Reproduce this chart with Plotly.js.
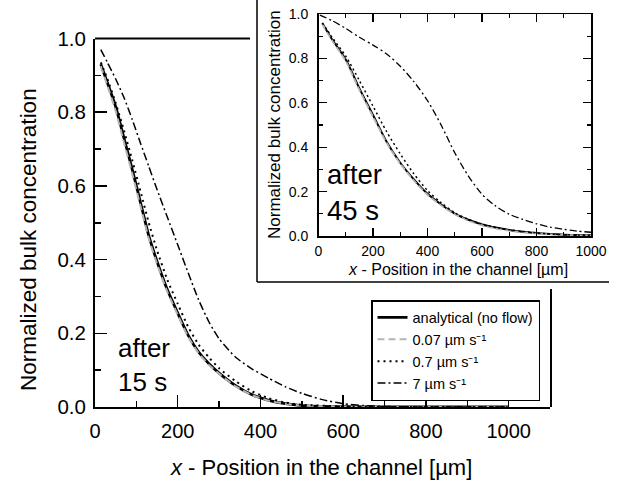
<!DOCTYPE html>
<html>
<head>
<meta charset="utf-8">
<script src="https://cdn.plot.ly/plotly-3.0.1.min.js"></script>
<style>
html,body{margin:0;padding:0;background:#fff;}
#chart{width:621px;height:489px;}
</style>
</head>
<body>
<div id="chart"></div>
<script>
// ---------- data: main plot (after 15 s) ----------
const mainX = [14,30,50,70,90,110,130,150,175,200,225,250,275,300,340,380,420,460,500,600,700,800,900,1000];
const mainAnalytical = [0.93,0.88,0.815,0.73,0.645,0.555,0.465,0.395,0.318,0.255,0.195,0.15,0.118,0.092,0.058,0.033,0.018,0.009,0.004,0.001,0,0,0,0];
const mainFlow007 = [0.925,0.872,0.803,0.718,0.633,0.545,0.457,0.388,0.312,0.25,0.191,0.147,0.115,0.09,0.056,0.032,0.017,0.009,0.004,0.001,0,0,0,0];
const mainFlow07 = [0.935,0.89,0.825,0.75,0.67,0.585,0.50,0.425,0.345,0.28,0.218,0.17,0.135,0.105,0.07,0.042,0.024,0.012,0.006,0.0015,0,0,0,0];
const mainX7 = [14,30,50,70,90,110,130,150,175,200,225,250,275,300,340,380,420,460,500,550,600,650,700,800,900,1000];
const mainFlow7 = [0.97,0.935,0.89,0.84,0.78,0.716,0.653,0.59,0.515,0.44,0.365,0.292,0.232,0.185,0.135,0.103,0.078,0.055,0.037,0.02,0.009,0.004,0.0015,0,0,0];

// ---------- data: inset (after 45 s) ----------
const insetX = [14,50,100,150,200,250,300,350,400,450,500,550,600,650,700,750,800,850,900,950,1000];
const insetAnalytical = [0.958,0.885,0.795,0.665,0.545,0.425,0.33,0.255,0.19,0.142,0.101,0.073,0.052,0.038,0.027,0.019,0.013,0.009,0.006,0.004,0.003];
const insetFlow007 = [0.955,0.88,0.788,0.658,0.538,0.42,0.326,0.25,0.186,0.138,0.098,0.069,0.048,0.034,0.024,0.016,0.011,0.007,0.005,0.003,0.002];
const insetFlow07 = [0.96,0.895,0.81,0.70,0.585,0.47,0.37,0.28,0.205,0.15,0.105,0.075,0.054,0.039,0.028,0.02,0.014,0.009,0.006,0.004,0.003];
const insetX7 = [5,50,100,150,200,250,300,350,400,450,500,550,600,650,700,750,800,850,900,950,1000];
const insetFlow7 = [0.995,0.97,0.935,0.895,0.86,0.82,0.765,0.695,0.61,0.50,0.375,0.27,0.188,0.135,0.098,0.075,0.055,0.04,0.03,0.022,0.017];

// ---------- labels ----------
const seriesNames = ['analytical (no flow)', '0.07 µm s\u207B\u00B9', '0.7 µm s\u207B\u00B9', '7 µm s\u207B\u00B9'];
const mainXTicks = [0,200,400,600,800,1000];
const insetXTicks = [0,200,400,600,800,1000];
const yTicks = [0,0.2,0.4,0.6,0.8,1.0];
const yTickText = ['0.0','0.2','0.4','0.6','0.8','1.0'];
const xTitle = '<i>x</i> - Position in the channel [µm]';
const yTitle = 'Normalized bulk concentration';

const FONT = 'Liberation Sans, Arial, Helvetica, sans-serif';
const W = 621, H = 489;
const px = v => v / W;
const py = v => (H - v) / H;

const styles = [
  {color:'#000000', width:2.8, dash:'solid'},
  {color:'#b4b4b4', width:2, dash:'7px,4px'},
  {color:'#000000', width:2, dash:'2px,4px'},
  {color:'#000000', width:1.5, dash:'8px,3px,2px,3px'}
];
const insetStyles = [
  {color:'#000000', width:2, dash:'solid'},
  {color:'#b4b4b4', width:1.8, dash:'6px,3px'},
  {color:'#000000', width:1.5, dash:'2px,3px'},
  {color:'#000000', width:1.3, dash:'7px,3px,2px,3px'}
];

const mainSets = [[mainX, mainAnalytical],[mainX, mainFlow007],[mainX, mainFlow07],[mainX7, mainFlow7]];
const insetSets = [[insetX, insetAnalytical],[insetX, insetFlow007],[insetX, insetFlow07],[insetX7, insetFlow7]];

const traces = [];
mainSets.forEach((s,i) => traces.push({
  x:s[0], y:s[1], type:'scatter', mode:'lines', name:seriesNames[i],
  line:Object.assign({shape:'spline', smoothing:0.6}, styles[i]), xaxis:'x', yaxis:'y', showlegend:true, hoverinfo:'skip'
}));
insetSets.forEach((s,i) => traces.push({
  x:s[0], y:s[1], type:'scatter', mode:'lines', name:seriesNames[i],
  line:Object.assign({shape:'spline', smoothing:0.8}, insetStyles[i]), xaxis:'x2', yaxis:'y2', showlegend:false, hoverinfo:'skip'
}));

const mainDomX = [px(95), px(550)];
const mainDomY = [py(407), py(38.5)];
const insDomX = [px(318.5), px(591)];
const insDomY = [py(236), py(14)];

const layout = {
  width:W, height:H,
  margin:{l:0,r:0,t:0,b:0,pad:0},
  paper_bgcolor:'#ffffff', plot_bgcolor:'rgba(0,0,0,0)',
  font:{family:FONT, color:'#000'},
  showlegend:true,
  legend:{
    x:px(371), y:py(300), xanchor:'left', yanchor:'top',
    bgcolor:'#ffffff', bordercolor:'#000', borderwidth:1.5,
    font:{family:FONT, size:14.5, color:'#000'},
    tracegroupgap:0, itemwidth:30
  },
  xaxis:{
    domain:mainDomX, anchor:'y', range:[0,1100],
    tickvals:mainXTicks, ticktext:mainXTicks.map(String),
    ticks:'inside', ticklen:12, tickwidth:1.5, tickcolor:'#000',
    minor:{dtick:100, ticks:'inside', ticklen:6, tickwidth:1.5, tickcolor:'#000'},
    showline:true, linewidth:2, linecolor:'#000', mirror:false,
    showgrid:false, zeroline:false,
    tickfont:{family:FONT, size:20}, ticklabelstandoff:5
  },
  yaxis:{
    domain:mainDomY, anchor:'x', range:[0,1.0],
    tickvals:yTicks, ticktext:yTickText,
    ticks:'inside', ticklen:12, tickwidth:1.5, tickcolor:'#000',
    minor:{dtick:0.1, ticks:'inside', ticklen:6, tickwidth:1.5, tickcolor:'#000'},
    showline:true, linewidth:2, linecolor:'#000', mirror:false,
    showgrid:false, zeroline:false,
    tickfont:{family:FONT, size:20.5}, ticklabelstandoff:3
  },
  xaxis3:{
    overlaying:'x', side:'top', anchor:'y', range:[0,1100],
    tickvals:[100,200,300], ticks:'inside', ticklen:7, tickwidth:1.5, tickcolor:'#000',
    showticklabels:false, showline:false, showgrid:false, zeroline:false
  },
  yaxis3:{
    overlaying:'y', side:'right', anchor:'x', range:[0,1.0],
    tickvals:[0.1,0.2,0.3], ticks:'inside', ticklen:7, tickwidth:1.5, tickcolor:'#000',
    showticklabels:false, showline:false, showgrid:false, zeroline:false
  },
  xaxis2:{
    domain:insDomX, anchor:'y2', range:[0,1000],
    tickvals:insetXTicks, ticktext:insetXTicks.map(String),
    ticks:'inside', ticklen:8, tickwidth:1.2, tickcolor:'#000',
    minor:{dtick:100, ticks:'inside', ticklen:4, tickwidth:1.2, tickcolor:'#000'},
    showline:true, linewidth:1.5, linecolor:'#000', mirror:'ticks',
    showgrid:false, zeroline:false,
    tickfont:{family:FONT, size:14}, ticklabelstandoff:2
  },
  yaxis2:{
    domain:insDomY, anchor:'x2', range:[0,1.0],
    tickvals:yTicks, ticktext:yTickText,
    ticks:'inside', ticklen:8, tickwidth:1.2, tickcolor:'#000',
    minor:{dtick:0.1, ticks:'inside', ticklen:4, tickwidth:1.2, tickcolor:'#000'},
    showline:true, linewidth:1.5, linecolor:'#000', mirror:'ticks',
    showgrid:false, zeroline:false,
    tickfont:{family:FONT, size:14}, ticklabelstandoff:6
  },
  shapes:[
    {type:'line', xref:'paper', yref:'paper', x0:px(95), x1:px(250), y0:py(38.5), y1:py(38.5), line:{color:'#000', width:2}},
    {type:'line', xref:'paper', yref:'paper', x0:px(551), x1:px(551), y0:py(407), y1:py(289), line:{color:'#000', width:2}},
    {type:'line', xref:'paper', yref:'paper', x0:px(257), x1:px(257), y0:py(282), y1:1, line:{color:'#000', width:1.5}},
    {type:'line', xref:'paper', yref:'paper', x0:px(257), x1:px(609), y0:py(282), y1:py(282), line:{color:'#000', width:1.5}}
  ],
  annotations:[
    {text:xTitle, xref:'paper', yref:'paper', x:px(321), y:py(467), xanchor:'center', yanchor:'middle', showarrow:false, font:{family:FONT, size:22}},
    {text:yTitle, xref:'paper', yref:'paper', x:px(28), y:py(240), xanchor:'center', yanchor:'middle', textangle:-90, showarrow:false, font:{family:FONT, size:22.5}},
    {text:xTitle, xref:'paper', yref:'paper', x:px(458), y:py(270), xanchor:'center', yanchor:'middle', showarrow:false, font:{family:FONT, size:16}},
    {text:yTitle, xref:'paper', yref:'paper', x:px(274), y:py(125), xanchor:'center', yanchor:'middle', textangle:-90, showarrow:false, font:{family:FONT, size:17}},
    {text:'after<br>15 s', xref:'paper', yref:'paper', x:px(116), y:py(331), xanchor:'left', yanchor:'top', align:'left', showarrow:false, font:{family:FONT, size:26}},
    {text:'after<br>45 s', xref:'paper', yref:'paper', x:px(325), y:py(157), xanchor:'left', yanchor:'top', align:'left', showarrow:false, font:{family:FONT, size:27.5}}
  ],
  hovermode:false
};

Plotly.newPlot('chart', traces, layout, {staticPlot:true, displayModeBar:false});
</script>
</body>
</html>
